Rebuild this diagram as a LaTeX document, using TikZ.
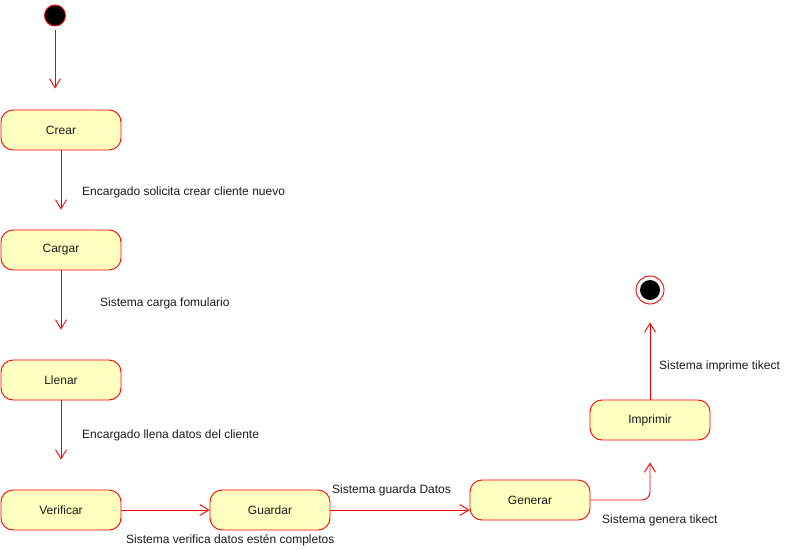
\documentclass[tikz,border=0pt]{standalone}
\usepackage{fontspec}
\setmainfont{Liberation Sans}
\usetikzlibrary{arrows.meta}
\definecolor{stfill}{HTML}{FFFFC0}
\definecolor{stline}{HTML}{FF0000}
\definecolor{txt}{HTML}{1A1A1A}
\begin{document}
\begin{tikzpicture}[x=1pt,y=-1pt,
  state/.style={draw=stline,fill=stfill,rounded corners=12pt,minimum width=120pt,minimum height=40pt,inner sep=0pt,line width=0.9pt,text=txt,font=\fontsize{12}{14}\selectfont},
  flow/.style={draw=stline,line width=0.9pt,-{Straight Barb[length=9pt,width=11pt,line width=0.9pt]}},
  lbl/.style={anchor=west,inner sep=0pt,text=txt,font=\fontsize{12}{14}\selectfont}]
\useasboundingbox (0,0) rectangle (798,551);
\node[circle,draw=stline,fill=black,minimum size=21pt,inner sep=0pt,line width=0.9pt] (start) at (55,15.5) {};
\node[state] (crear) at (61,130) {Crear};
\node[state] (cargar) at (61,250) {Cargar};
\node[state] (llenar) at (61,380) {Llenar};
\node[state] (verificar) at (61,510) {Verificar};
\node[state] (guardar) at (270,510) {Guardar};
\node[state] (generar) at (530,500) {Generar};
\node[state] (imprimir) at (650,420) {Imprimir};
\node[circle,draw=stline,fill=white,minimum size=28pt,inner sep=0pt,line width=0.9pt] (fin) at (650,290) {};
\node[circle,fill=black,minimum size=20pt,inner sep=0pt] (finin) at (fin.center) {};

\draw[flow,shorten <=4pt,shorten >=21pt] (start) -- (start |- crear.north);
\draw[flow,shorten >=20pt] (crear) -- (cargar);
\draw[flow,shorten >=30pt] (cargar) -- (llenar);
\draw[flow,shorten >=30pt] (llenar) -- (verificar);
\draw[flow] (verificar) -- (guardar);
\draw[flow] (guardar.east) -- (guardar.east -| generar.west);
\draw[flow,rounded corners=8pt,shorten >=22pt] (generar.east) -| (imprimir.south);
\draw[flow,shorten >=18pt] (imprimir) -- (fin);

\node[lbl] (l1) at (82,192) {Encargado solicita crear cliente nuevo};
\node[lbl] (l2) at (100,303) {Sistema carga fomulario};
\node[lbl] (l3) at (82,435) {Encargado llena datos del cliente};
\node[lbl] (l4) at (126,540) {Sistema verifica datos estén completos};
\node[lbl] (l5) at (332,490) {Sistema guarda Datos};
\node[lbl] (l6) at (602,520) {Sistema genera tikect};
\node[lbl] (l7) at (659,366) {Sistema imprime tikect};
\end{tikzpicture}
\end{document}
